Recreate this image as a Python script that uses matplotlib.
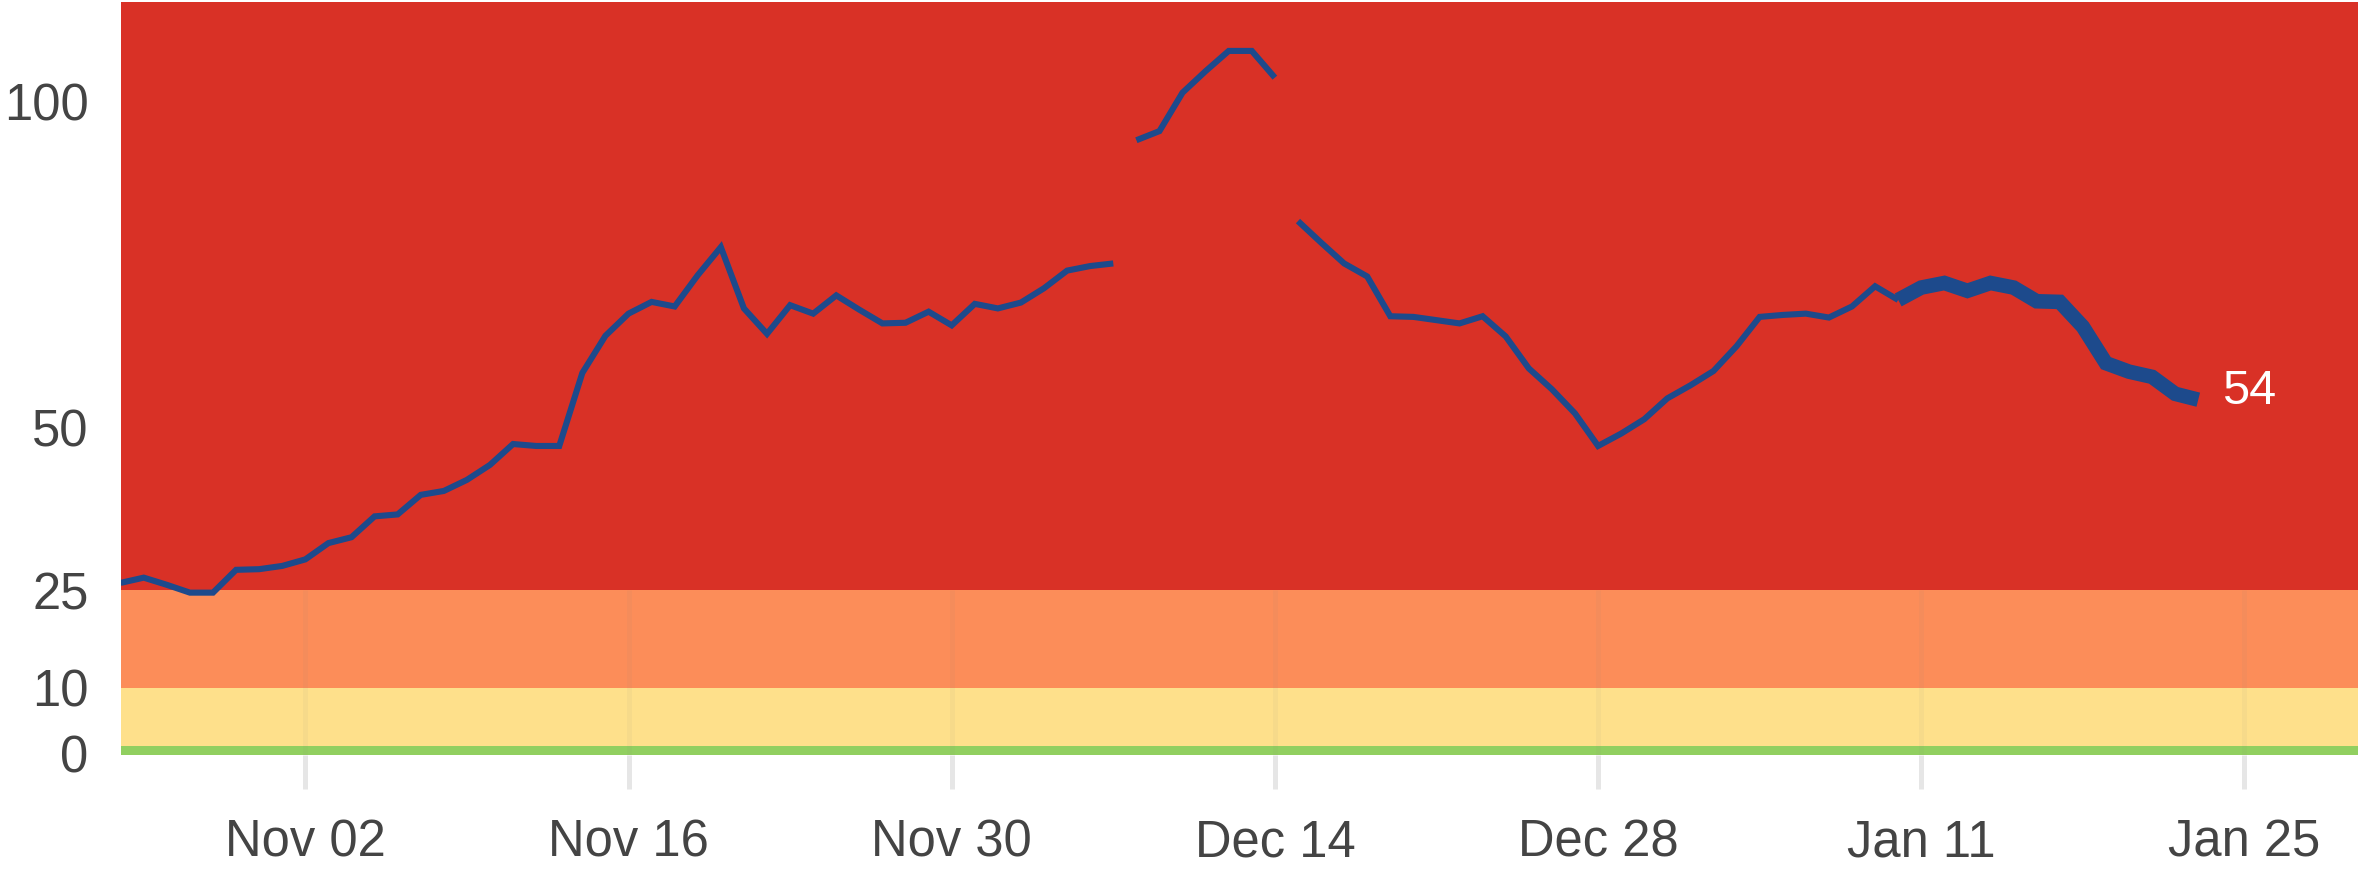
import matplotlib
matplotlib.use("Agg")
import matplotlib.pyplot as plt
import matplotlib.dates as mdates
import numpy as np
import pandas as pd

plt.rcParams['font.family'] = ['Liberation Sans', 'DejaVu Sans']

# ---- data ----
seg1_start = "2020-10-25"
seg1_values = [26.1, 26.9, 25.8, 24.6, 24.6, 28.1, 28.2, 28.7, 29.7, 32.2,
               33.1, 36.3, 36.6, 39.6, 40.2, 41.9, 44.2, 47.4, 47.1, 47.1,
               58.3, 64.0, 67.4, 69.2, 68.5, 73.3, 77.6, 68.2, 64.3, 68.7,
               67.4, 70.2, 68.0, 65.9, 66.0, 67.7, 65.6, 68.9, 68.2, 69.1,
               71.3, 74.0, 74.7, 75.1]
seg2_start = "2020-12-08"
seg2_values = [94.0, 95.4, 101.3, 104.6, 107.7, 107.7, 103.6]
seg3_start = "2020-12-15"
seg3_values = [81.6, 78.3, 75.1, 73.1, 67.0, 66.9, 66.4, 65.9, 67.0, 63.9,
               59.0, 55.8, 52.1, 47.1, 49.0, 51.2, 54.4, 56.4, 58.6, 62.4,
               66.9, 67.2, 67.4, 66.8, 68.5, 71.6, 69.5, 71.4, 72.1, 70.9,
               72.1, 71.4, 69.3, 69.2, 65.4, 59.8, 58.5, 57.7, 55.1, 54.2]
provisional_start = "2021-01-10"   # thick part of the line
last_label = "54"

band_edges = [-0.3, 1, 10, 25, 200]
band_colors = ["#91cf60", "#fee08b", "#fc8d59", "#d93126"]

y_ticks = [0, 10, 25, 50, 100]
x_tick_dates = ["2020-11-02", "2020-11-16", "2020-11-30", "2020-12-14",
                "2020-12-28", "2021-01-11", "2021-01-25"]
x_range = ["2020-10-25", "2021-01-29 22:00"]

line_color = "#1d4a8c"
label_color = "#444444"

# ---- figure ----
fig = plt.figure(figsize=(23.61, 8.83), dpi=100)
ax = fig.add_axes([0.0511, 0.145, 0.9476, 0.8527])

for lo, hi, c in zip(band_edges[:-1], band_edges[1:], band_colors):
    ax.axhspan(lo, hi, color=c, lw=0, zorder=0)

xt = pd.to_datetime(x_tick_dates)
ax.vlines(xt, band_edges[0], band_edges[3], color="#808080", alpha=0.06,
          lw=3.6, zorder=1)

segments = []
for start, vals in [(seg1_start, seg1_values), (seg2_start, seg2_values), (seg3_start, seg3_values)]:
    dates = pd.date_range(start, periods=len(vals), freq="D")
    segments.append((dates, np.array(vals)))

prov = pd.Timestamp(provisional_start)
for dates, vals in segments:
    m = dates <= prov
    ax.plot(dates[m], vals[m], color=line_color, lw=4.4, zorder=3,
            solid_joinstyle="miter", solid_capstyle="butt")
    if (~m).any():
        k = np.argmax(~m) - 1
        ax.plot(dates[k:], vals[k:], color=line_color, lw=10.5, zorder=3,
                solid_joinstyle="miter", solid_capstyle="butt")

last_dates, last_vals = segments[-1]
ax.annotate(last_label, xy=(last_dates[-1], last_vals[-1]), xytext=(17, 6),
            textcoords="offset points", color="white", fontsize=35,
            ha="left", va="center", zorder=4)

ax.set_ylim(band_edges[0], 115.2)
ax.set_xlim(pd.Timestamp(x_range[0]), pd.Timestamp(x_range[1]))

ax.set_yticks(y_ticks)
ax.set_yticklabels([str(v) for v in y_ticks])
ax.tick_params(axis="y", length=0, pad=23, labelsize=36.5, labelcolor=label_color)

ax.set_xticks(xt)
ax.xaxis.set_major_formatter(mdates.DateFormatter("%b %d"))
ax.tick_params(axis="x", length=24.5, width=3.6, color="#e6e6e6",
               pad=21, labelsize=36.5, labelcolor=label_color)

for s in ax.spines.values():
    s.set_visible(False)

fig.savefig("out.png", dpi=100)
